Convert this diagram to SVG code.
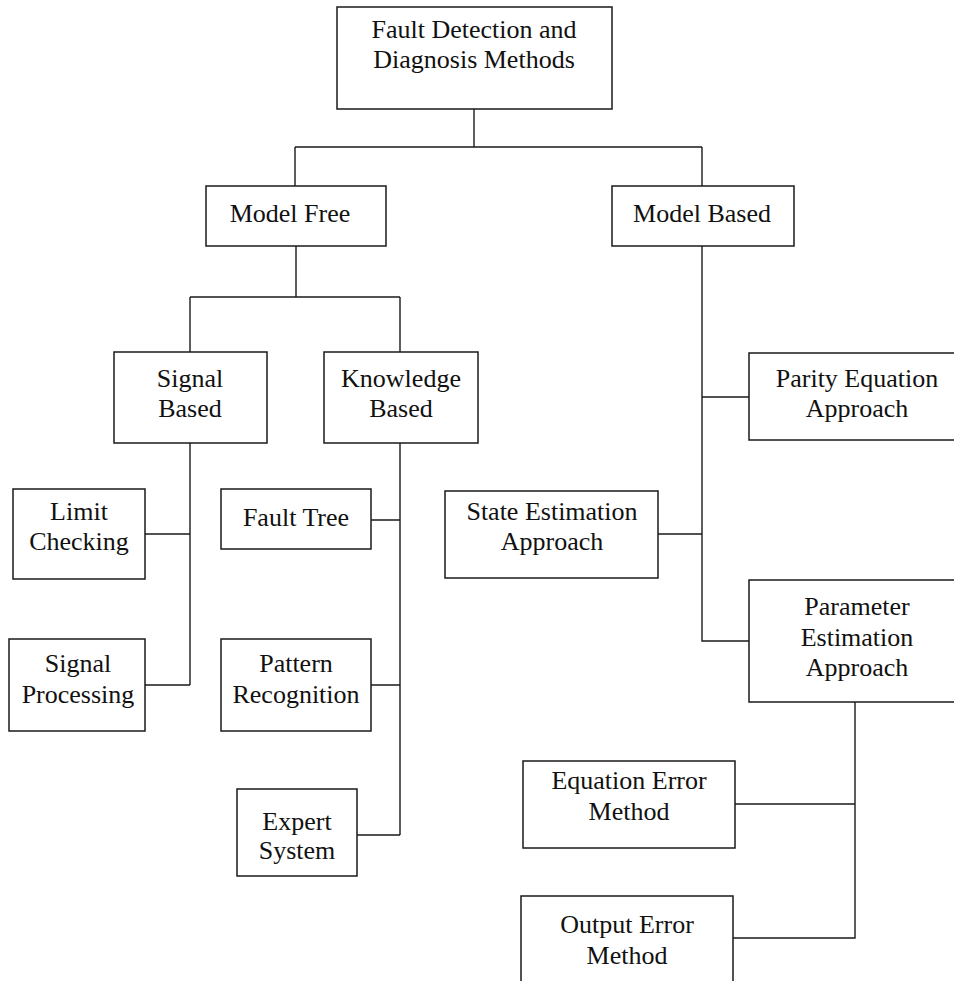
<svg xmlns="http://www.w3.org/2000/svg" width="954" height="981" viewBox="0 0 954 981">
  <style>
    .box { fill: #ffffff; stroke: #1a1a1a; stroke-width: 1.5; }
    .wire { fill: none; stroke: #1a1a1a; stroke-width: 1.4; }
    text { font-family: "Liberation Serif", "Times New Roman", serif; font-size: 26px; fill: #111111; text-anchor: middle; }
  </style>
  <rect width="954" height="981" fill="#ffffff"/>

  <!-- connectors -->
  <g id="connectors" class="wire">
    <path d="M474,109 V147 M295,147 H702 M295,147 V186 M702,147 V186"/>
    <path d="M296,246 V297 M190,297 H400 M190,297 V352 M400,297 V352"/>
    <path d="M190,443 V685 M145,534 H190 M145,685 H190"/>
    <path d="M400,443 V835 M371,520 H400 M371,685 H400 M357,835 H400"/>
    <path d="M702,246 V641 H749 M702,397 H749 M658,534 H702"/>
    <path d="M855,702 V938 H733 M735,804 H855"/>
  </g>

  <g id="root">
    <rect class="box" x="337" y="7" width="275" height="102"/>
    <text x="474" y="38">Fault Detection and</text>
    <text x="474" y="68">Diagnosis Methods</text>
  </g>

  <g id="model-free">
    <rect class="box" x="206" y="186" width="180" height="60"/>
    <text x="290" y="222">Model Free</text>
  </g>

  <g id="model-based">
    <rect class="box" x="612" y="186" width="182" height="60"/>
    <text x="702" y="222">Model Based</text>
  </g>

  <g id="signal-based">
    <rect class="box" x="114" y="352" width="153" height="91"/>
    <text x="190" y="387">Signal</text>
    <text x="190" y="417">Based</text>
  </g>

  <g id="knowledge-based">
    <rect class="box" x="324" y="352" width="154" height="91"/>
    <text x="401" y="387">Knowledge</text>
    <text x="401" y="417">Based</text>
  </g>

  <g id="limit-checking">
    <rect class="box" x="13" y="489" width="132" height="90"/>
    <text x="79" y="520">Limit</text>
    <text x="79" y="550">Checking</text>
  </g>

  <g id="signal-processing">
    <rect class="box" x="9" y="639" width="136" height="92"/>
    <text x="78" y="672">Signal</text>
    <text x="78" y="703">Processing</text>
  </g>

  <g id="fault-tree">
    <rect class="box" x="221" y="489" width="150" height="60"/>
    <text x="296" y="526">Fault Tree</text>
  </g>

  <g id="pattern-recognition">
    <rect class="box" x="221" y="639" width="150" height="92"/>
    <text x="296" y="672">Pattern</text>
    <text x="296" y="703">Recognition</text>
  </g>

  <g id="expert-system">
    <rect class="box" x="237" y="789" width="120" height="87"/>
    <text x="297" y="830">Expert</text>
    <text x="297" y="859">System</text>
  </g>

  <g id="parity-equation">
    <rect class="box" x="749" y="353" width="215" height="87"/>
    <text x="857" y="387">Parity Equation</text>
    <text x="857" y="417">Approach</text>
  </g>

  <g id="state-estimation">
    <rect class="box" x="445" y="491" width="213" height="87"/>
    <text x="552" y="520">State Estimation</text>
    <text x="552" y="550">Approach</text>
  </g>

  <g id="parameter-estimation">
    <rect class="box" x="749" y="580" width="215" height="122"/>
    <text x="857" y="615">Parameter</text>
    <text x="857" y="646">Estimation</text>
    <text x="857" y="676">Approach</text>
  </g>

  <g id="equation-error">
    <rect class="box" x="523" y="761" width="212" height="87"/>
    <text x="629" y="789">Equation Error</text>
    <text x="629" y="820">Method</text>
  </g>

  <g id="output-error">
    <rect class="box" x="521" y="896" width="212" height="100"/>
    <text x="627" y="933">Output Error</text>
    <text x="627" y="964">Method</text>
  </g>
</svg>
